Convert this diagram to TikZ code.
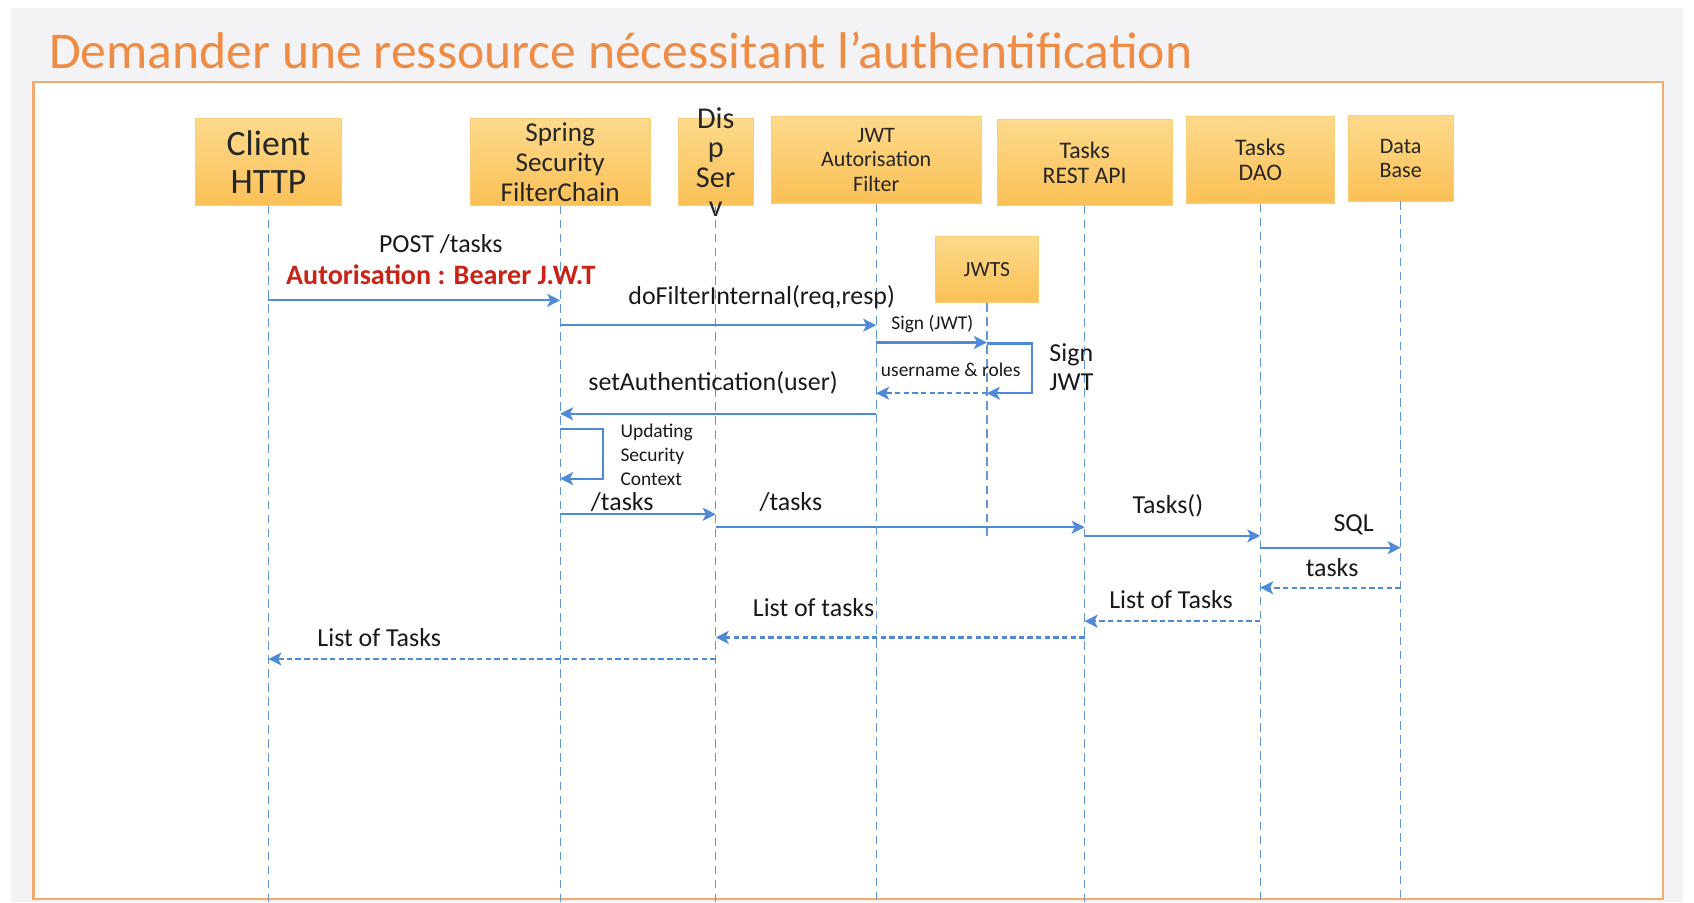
\documentclass[tikz,border=0pt]{standalone}
\usepackage{fontspec}
\setmainfont{Carlito}
\usepackage{xcolor}
\definecolor{titleorange}{RGB}{238,140,70}
\definecolor{frameorange}{RGB}{242,170,110}
\definecolor{boxtop}{RGB}{253,218,140}
\definecolor{boxbot}{RGB}{250,192,85}
\definecolor{boxline}{RGB}{250,205,120}
\definecolor{msgblue}{RGB}{78,138,216}
\definecolor{lifeblue}{RGB}{95,150,215}
\definecolor{authred}{RGB}{200,35,20}
\definecolor{slidegray}{RGB}{243,243,245}
\usetikzlibrary{arrows.meta}

\tikzset{
  actor/.style={draw=boxline, top color=boxtop, bottom color=boxbot, inner sep=0pt, align=center, text=black!85},
  life/.style={lifeblue, line width=0.6pt, dash pattern=on 4pt off 2.5pt},
  msg/.style={msgblue, line width=1pt, -{Stealth[length=6pt,width=6pt,inset=1.5pt]}},
  ret/.style={msg, dash pattern=on 2.5pt off 1.5pt},
  lbl/.style={font=\fontsize{12}{14}\selectfont, text=black!90, inner sep=0pt},
  tiny/.style={font=\fontsize{9}{11}\selectfont, text=black!90, inner sep=0pt}
}

\begin{document}
\begin{tikzpicture}[x=0.5pt, y=-0.5pt]
  \useasboundingbox (0,0) rectangle (1568,835);
  \fill[slidegray] (10,7) rectangle (1558,835);
  \filldraw[fill=white, draw=frameorange, line width=1pt] (31,76) rectangle (1539,832);
  \node[anchor=base west, text=titleorange, font=\fontsize{23.9}{28}\selectfont, inner sep=0pt] (ttl) at (45,63) {Demander une ressource nécessitant l’authentification};

  \node[actor, minimum width=67.5pt, minimum height=40pt, font=\fontsize{16.5}{17.5}\selectfont] (cl) at (248.5,150) {Client\\HTTP};
  \node[actor, minimum width=83.5pt, minimum height=40pt, font=\fontsize{12.6}{14}\selectfont] (sp) at (518.5,150) {Spring\\Security\\FilterChain};
  \node[actor, minimum width=34.5pt, minimum height=40pt] (ds) at (662.5,150) {};
  \node[inner sep=0pt, align=center, text=black!85, font=\fontsize{14}{13.5}\selectfont] (dst) at (ds) {Dis\\p\\Ser\\v};
  \node[actor, minimum width=97pt, minimum height=40pt, font=\fontsize{10.2}{11.25}\selectfont] (jf) at (811,148) {JWT\\Autorisation\\Filter};
  \node[actor, minimum width=81pt, minimum height=39.5pt, font=\fontsize{11}{11.5}\selectfont] (api) at (1004,150.5) {Tasks\\REST API};
  \node[actor, minimum width=68.5pt, minimum height=40pt, font=\fontsize{11}{11.5}\selectfont] (dao) at (1166.5,148) {Tasks\\DAO};
  \node[actor, minimum width=48.5pt, minimum height=39.5pt, font=\fontsize{10.2}{11}\selectfont] (db) at (1296.5,146.5) {Data\\Base};
  \node[actor, minimum width=47.5pt, minimum height=30.5pt, font=\fontsize{10}{12}\selectfont] (jwts) at (913.5,249.5) {JWTS};

  \coordinate (bot) at (0,835);
  \foreach \n in {cl,sp,ds,jf,api,dao,db}
    \draw[life] (\n.south) -- (\n.south |- bot);
  \draw[life] (jwts.south) -- (jwts.south |- 0,497);

  \foreach \a/\b/\y in {cl/sp/278, sp/jf/301, jf/jwts/317, jf/sp/383, sp/ds/476, ds/api/488, api/dao/496, dao/db/507}
    \draw[msg] (\a |- 0,\y) -- (\b |- 0,\y);
  \foreach \a/\b/\y in {jwts/jf/364, db/dao/544, dao/api/575, api/ds/590, ds/cl/610}
    \draw[ret] (\a |- 0,\y) -- (\b |- 0,\y);
  \draw[msg] (jwts |- 0,318) -- ++(42,0) |- (jwts |- 0,364);
  \draw[msg] (sp |- 0,397) -- ++(40,0) |- (sp |- 0,443);

  \node[lbl] (l1) at (408,226) {POST /tasks};
  \node[lbl, text=authred, font=\bfseries\fontsize{13}{15}\selectfont] (l2) at (408,254) {Autorisation : Bearer J.W.T};
  \node[lbl] (l3) at (705,275) {doFilterInternal(req,resp)};
  \node[tiny] (l4) at (863,300) {Sign (JWT)};
  \node[tiny] (l5) at (880,342) {username \& roles};
  \node[lbl, anchor=west, align=left, font=\fontsize{12}{13.5}\selectfont] (l6) at (971,340) {Sign\\JWT};
  \node[lbl] (l7) at (660,354) {setAuthentication(user)};
  \node[tiny, anchor=west, align=left] (l8) at (574,421) {Updating\\Security\\Context};
  \node[lbl] (l9) at (576,465) {/tasks};
  \node[lbl] (l10) at (732,465) {/tasks};
  \node[lbl] (l11) at (1081,468) {Tasks()};
  \node[lbl] (l12) at (1253,486) {SQL};
  \node[lbl] (l13) at (1233,525) {tasks};
  \node[lbl] (l14) at (1084,555) {List of Tasks};
  \node[lbl] (l15) at (753,562) {List of tasks};
  \node[lbl] (l16) at (351,590) {List of Tasks};
\end{tikzpicture}
\end{document}
